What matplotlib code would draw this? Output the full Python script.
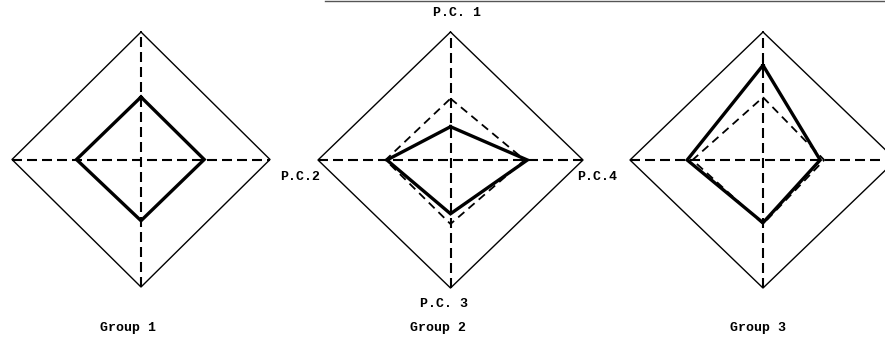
import numpy as np
import matplotlib
matplotlib.use('Agg')
import matplotlib.pyplot as plt
from matplotlib.lines import Line2D

# axis order round the diamond: top, right, bottom, left
axis_names = ['P.C. 1', 'P.C.4', 'P.C. 3', 'P.C.2']
groups = ['Group 1', 'Group 2', 'Group 3']

# group profiles (solid) and reference profile (dashed), scaled 0..1
group1 = [0.49, 0.49, 0.48, 0.50]
group2 = [0.26, 0.58, 0.42, 0.48]
group3 = [0.74, 0.43, 0.49, 0.57]
ref2 = [0.48, 0.56, 0.50, 0.49]
ref3 = [0.49, 0.46, 0.50, 0.53]

profiles = [group1, group2, group3]
references = [None, ref2, ref3]

W, H = 885, 338
# panel boxes in pixels: left, right, top, bottom
boxes = [(12, 270, 32, 287), (318, 583, 32, 288), (630, 896, 32, 288)]

font = dict(family='Liberation Mono', fontweight='bold', fontsize=9.5)


def diamond(vals):
    top, right, bottom, left = vals
    xs = [0, right, 0, -left, 0]
    ys = [top, 0, -bottom, 0, top]
    return xs, ys


fig = plt.figure(figsize=(W / 100, H / 100), dpi=100)

for (l, r, t, b), prof, ref in zip(boxes, profiles, references):
    ax = fig.add_axes([l / W, 1 - b / H, (r - l) / W, (b - t) / H])
    ax.set_xlim(-1, 1)
    ax.set_ylim(-1, 1)
    ax.axis('off')

    # outer frame
    xs, ys = diamond([1, 1, 1, 1])
    ax.plot(xs, ys, color='black', lw=1.0, clip_on=False)
    # dashed axes
    ax.plot([-1, 1], [0, 0], color='black', lw=1.5,
            linestyle=(0, (4.8, 2.4)), clip_on=False)
    ax.plot([0, 0], [-1, 1], color='black', lw=1.5,
            linestyle=(0, (4.8, 2.4)), clip_on=False)

    if ref is not None:
        xs, ys = diamond(ref)
        ax.plot(xs, ys, color='black', lw=1.3,
                linestyle=(0, (4.5, 3.0)), clip_on=False)

    xs, ys = diamond(prof)
    ax.plot(xs, ys, color='black', lw=2.4, solid_joinstyle='miter',
            clip_on=False)

# axis labels around the middle panel
fig.text(457 / W, 1 - 13 / H, axis_names[0], ha='center', va='center', **font)
fig.text(597 / W, 1 - 177 / H, axis_names[1], ha='center', va='center', **font)
fig.text(444 / W, 1 - 304 / H, axis_names[2], ha='center', va='center', **font)
fig.text(300 / W, 1 - 177 / H, axis_names[3], ha='center', va='center', **font)

# group captions
for name, x in zip(groups, [128, 438, 758]):
    fig.text(x / W, 1 - 328 / H, name, ha='center', va='center', **font)

# page edge along the top
fig.add_artist(Line2D([325 / W, 1], [1 - 0.8 / H, 1 - 0.8 / H],
                      color='#555555', lw=1.0))

plt.savefig('out.png', dpi=100)
